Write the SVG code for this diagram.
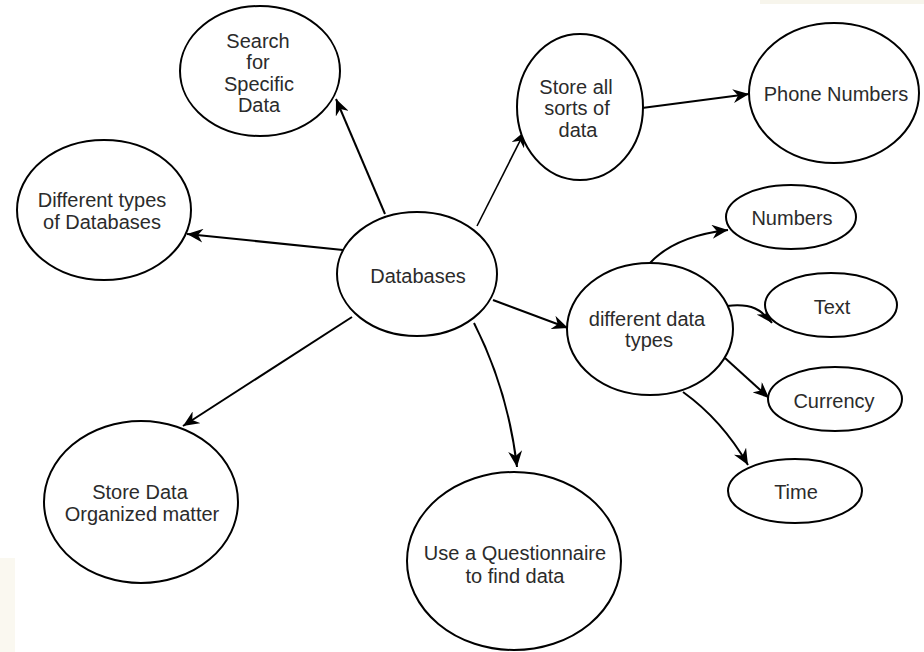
<svg xmlns="http://www.w3.org/2000/svg" width="924" height="652" viewBox="0 0 924 652">
<defs>
<style>
.n ellipse{fill:#fff;stroke:#000;stroke-width:2}
.n text{font-family:"Liberation Sans",Arial,sans-serif;font-size:20px;fill:#2b2b2b;text-anchor:middle}
#edges path{fill:none;stroke:#000;stroke-width:2}
</style>
<marker id="ah" markerUnits="userSpaceOnUse" markerWidth="18" markerHeight="14" refX="16" refY="7" orient="auto" viewBox="0 0 18 14">
<path d="M0,0 L16,7 L0,14 L5,7 Z" fill="#000"/>
</marker>
</defs>
<rect width="924" height="652" fill="#fff"/>
<rect x="760" y="0" width="164" height="4" fill="#f7f5ec"/>
<rect x="0" y="558" width="15" height="94" fill="#faf8f0"/>
<g id="edges">
<path d="M385,214 L336,99" marker-end="url(#ah)"/>
<path d="M343,250 L187,234" marker-end="url(#ah)"/>
<path d="M477,226 L525,131" marker-end="url(#ah)" style="stroke-width:1.6"/>
<path d="M642,108 L749,94" marker-end="url(#ah)"/>
<path d="M493,300 L568,328" marker-end="url(#ah)"/>
<path d="M474,323 Q508,390 517,467" marker-end="url(#ah)"/>
<path d="M352,317 L183,426" marker-end="url(#ah)"/>
<path d="M650,263 Q675,236 728,230" marker-end="url(#ah)"/>
<path d="M727,306 C752,303 762,310 772,323" marker-end="url(#ah)"/>
<path d="M725,358 L769,398" marker-end="url(#ah)"/>
<path d="M683,392 Q722,420 748,465" marker-end="url(#ah)"/>
</g>
<g id="node-search" class="n"><ellipse cx="260" cy="71" rx="80" ry="65"/><text x="258" y="48">Search</text><text x="258" y="69">for</text><text x="259" y="91">Specific</text><text x="259" y="112">Data</text></g>
<g id="node-types-db" class="n"><ellipse cx="104" cy="210" rx="87" ry="70"/><text x="102" y="207">Different types</text><text x="102" y="229">of Databases</text></g>
<g id="node-databases" class="n"><ellipse cx="417" cy="274" rx="80" ry="62"/><text x="418" y="283">Databases</text></g>
<g id="node-store-all" class="n"><ellipse cx="580" cy="107" rx="63" ry="73"/><text x="576" y="94">Store all</text><text x="577" y="115">sorts of</text><text x="578" y="137">data</text></g>
<g id="node-phone" class="n"><ellipse cx="834" cy="93" rx="85" ry="70"/><text x="836" y="101">Phone Numbers</text></g>
<g id="node-numbers" class="n"><ellipse cx="791" cy="217" rx="65" ry="32"/><text x="792" y="225">Numbers</text></g>
<g id="node-text" class="n"><ellipse cx="831" cy="305" rx="66" ry="32"/><text x="832" y="314">Text</text></g>
<g id="node-currency" class="n"><ellipse cx="835" cy="399" rx="67" ry="32"/><text x="834" y="408">Currency</text></g>
<g id="node-time" class="n"><ellipse cx="795" cy="491" rx="67" ry="32"/><text x="796" y="499">Time</text></g>
<g id="node-data-types" class="n"><ellipse cx="650" cy="329" rx="83" ry="66"/><text x="647" y="326">different data</text><text x="649" y="347">types</text></g>
<g id="node-store-data" class="n"><ellipse cx="141" cy="502" rx="97" ry="81"/><text x="140" y="499">Store Data</text><text x="142" y="521">Organized matter</text></g>
<g id="node-questionnaire" class="n"><ellipse cx="514" cy="561" rx="107" ry="89"/><text x="515" y="560">Use a Questionnaire</text><text x="515" y="583">to find data</text></g>
</svg>
